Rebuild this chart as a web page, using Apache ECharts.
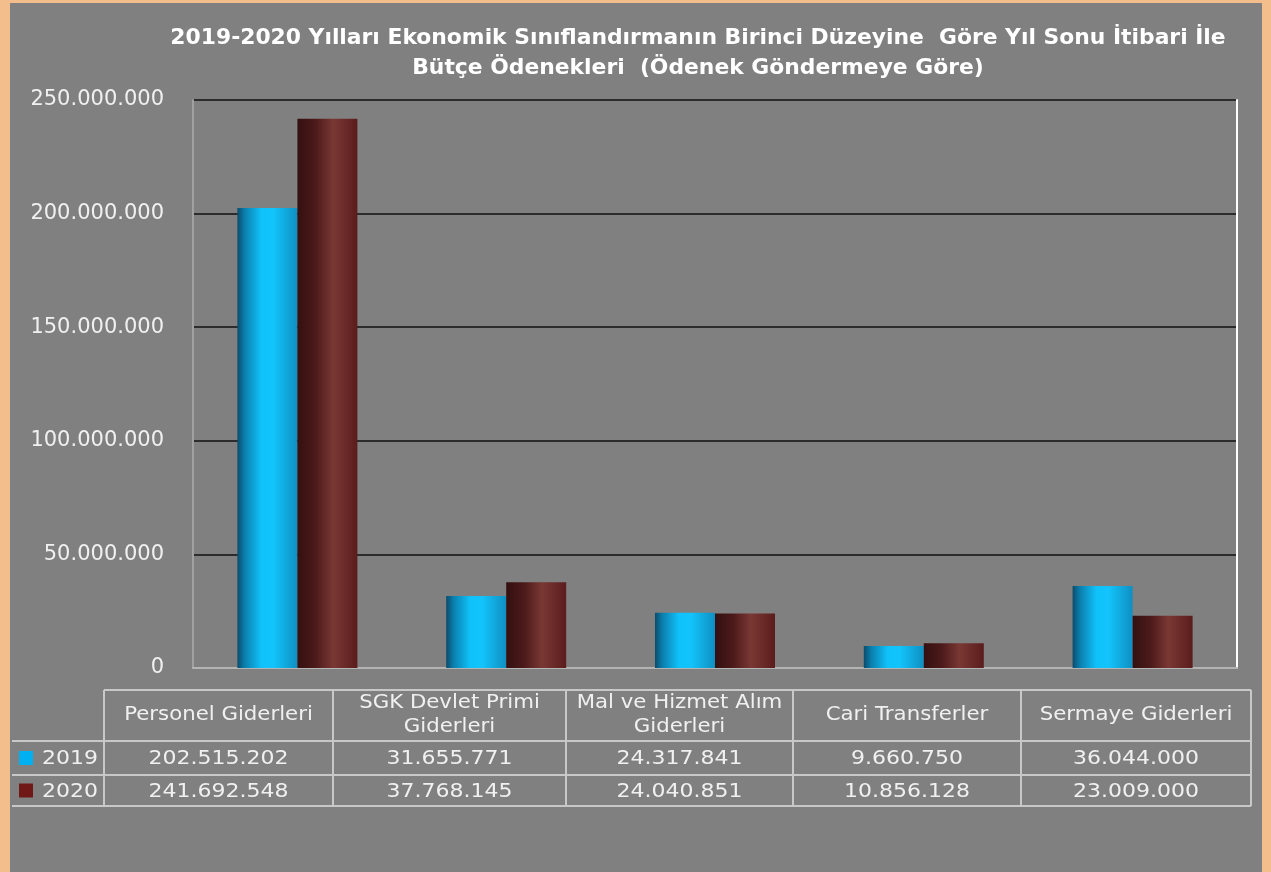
<!DOCTYPE html>
<html>
<head>
<meta charset="utf-8">
<script src="https://cdn.jsdelivr.net/npm/echarts@6/dist/echarts.min.js"></script>
<style>
html,body{margin:0;padding:0;width:1271px;height:872px;overflow:hidden;background:#f4bd8c;}
#frame{position:absolute;left:10px;top:3px;width:1252px;height:869px;background:#808080;}
#chart{position:absolute;left:0;top:0;width:1271px;height:872px;}
</style>
</head>
<body>
<div id="frame"></div>
<div id="chart"></div>
<script>
const titleLines = ['2019-2020 Yılları Ekonomik Sınıflandırmanın Birinci Düzeyine  Göre Yıl Sonu İtibari İle', 'Bütçe Ödenekleri  (Ödenek Göndermeye Göre)'];
const categories = ['Personel Giderleri', 'SGK Devlet Primi\nGiderleri', 'Mal ve Hizmet Alım\nGiderleri', 'Cari Transferler', 'Sermaye Giderleri'];
const seriesNames = ['2019', '2020'];
const values2019 = [202515202, 31655771, 24317841, 9660750, 36044000];
const values2020 = [241692548, 37768145, 24040851, 10856128, 23009000];
const yTicks = [0, 50000000, 100000000, 150000000, 200000000, 250000000];

function fmt(v){ return String(v).replace(/\B(?=(\d{3})+(?!\d))/g, '.'); }

const chart = echarts.init(document.getElementById('chart'));
const FONT = 'DejaVu Sans';
const TXT = '#f0f0f0';

// table geometry
const colX = [12, 104, 333, 566, 793, 1021, 1251];
const rowY = [690, 741, 775, 806];
const lineColor = '#c8c8c8';
const graphics = [];
function hline(x1, x2, y){ graphics.push({type:'line', shape:{x1:x1,y1:y,x2:x2,y2:y}, style:{stroke:lineColor, lineWidth:2}, silent:true}); }
function vline(x, y1, y2){ graphics.push({type:'line', shape:{x1:x,y1:y1,x2:x,y2:y2}, style:{stroke:lineColor, lineWidth:2}, silent:true}); }
hline(colX[1], colX[6], rowY[0]);
hline(colX[0], colX[6], rowY[1]);
hline(colX[0], colX[6], rowY[2]);
hline(colX[0], colX[6], rowY[3]);
for (let i = 1; i < colX.length; i++) vline(colX[i], rowY[0], rowY[3]);
categories.forEach((c, i) => {
  const cx = (colX[i+1] + colX[i+2]) / 2;
  graphics.push({type:'text', x:cx, y:(rowY[0]+rowY[1])/2, scaleX:1.12, silent:true,
    style:{text:c, fill:TXT, font:'19px "'+FONT+'"', align:'center', verticalAlign:'middle', lineHeight:24}});
  [values2019, values2020].forEach((arr, r) => {
    graphics.push({type:'text', x:cx, y:(rowY[r+1]+rowY[r+2])/2 + 1, scaleX:1.1, silent:true,
      style:{text:fmt(arr[i]), fill:TXT, font:'20px "'+FONT+'"', align:'center', verticalAlign:'middle'}});
  });
});
const keyColors = ['#00b0f0', '#701818'];
seriesNames.forEach((n, r) => {
  const cy = (rowY[r+1]+rowY[r+2])/2;
  graphics.push({type:'rect', shape:{x:19, y:cy-7, width:14, height:14}, style:{fill:keyColors[r]}, silent:true});
  graphics.push({type:'text', x:98, y:cy+1, scaleX:1.1, silent:true,
    style:{text:n, fill:TXT, font:'20px "'+FONT+'"', align:'right', verticalAlign:'middle'}});
});
titleLines.forEach((t, i) => {
  graphics.push({type:'text', x:698, y:39 + i*30, scaleX:1.04, silent:true,
    style:{text:t, fill:'#ffffff', font:'bold 21px "'+FONT+'"', align:'center', verticalAlign:'middle'}});
});

function grad(stops){
  return new echarts.graphic.LinearGradient(0, 0, 1, 0, stops.map(s => ({offset:s[0], color:s[1]})));
}
const g2019 = grad([[0,'#0a4c6c'],[0.12,'#0b7eac'],[0.4,'#10c2fa'],[0.6,'#12c4fb'],[1,'#0f8fc2']]);
const g2020 = grad([[0,'#341010'],[0.3,'#4c1a1a'],[0.6,'#7a3834'],[1,'#5a1c1c']]);

chart.setOption({
  animation:false,
  backgroundColor:'transparent',
  grid:{left:193, right:34, top:100, bottom:204},
  xAxis:{type:'category', data:categories, axisLabel:{show:false}, axisTick:{show:false},
    axisLine:{show:true, lineStyle:{color:'#b4b4b4', width:2}}},
  yAxis:[{type:'value', min:yTicks[0], max:yTicks[yTicks.length-1], interval:yTicks[1]-yTicks[0],
    axisLabel:{color:TXT, fontFamily:FONT, fontSize:21, margin:29, formatter:v => fmt(v)},
    axisLine:{show:true, lineStyle:{color:'#a0a0a0', width:2}}, axisTick:{show:false},
    splitLine:{lineStyle:{color:'#111111', width:1.5}}},
   {type:'value', min:yTicks[0], max:yTicks[yTicks.length-1], interval:yTicks[1]-yTicks[0], position:'right',
    axisLabel:{show:false}, axisTick:{show:false}, splitLine:{show:false},
    axisLine:{show:true, lineStyle:{color:'#ffffff', width:2}}}],
  series:[
    {name:seriesNames[0], type:'bar', data:values2019, barWidth:60, barGap:'0%', itemStyle:{color:g2019}},
    {name:seriesNames[1], type:'bar', data:values2020, barWidth:60, barGap:'0%', itemStyle:{color:g2020}}
  ],
  graphic:graphics
});
</script>
</body>
</html>
